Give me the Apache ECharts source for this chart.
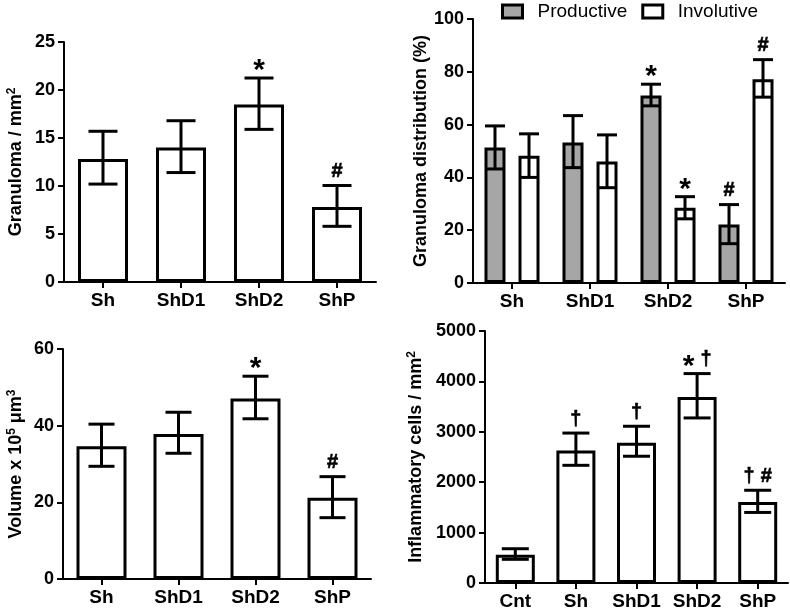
<!DOCTYPE html>
<html>
<head>
<meta charset="utf-8">
<script src="https://cdn.jsdelivr.net/npm/echarts@6/dist/echarts.min.js"></script>
<style>html,body{margin:0;padding:0;background:#fff;}#c{width:790px;height:610px;}</style>
</head>
<body>
<div id="c"></div>
<script>
// ---- data ----
const groups = ['Sh', 'ShD1', 'ShD2', 'ShP'];
const groups4 = ['Cnt', 'Sh', 'ShD1', 'ShD2', 'ShP'];

const granMean = [12.8, 14.0, 18.5, 7.8];
const granHi = [15.7, 16.8, 21.25, 10.05];
const granLo = [10.2, 11.4, 15.9, 5.8];
const granAnn = ['', '', '*', '#'];

const prodMean = [51.3, 53.2, 71.0, 22.2];
const prodHi = [59.5, 63.4, 75.3, 29.7];
const prodLo = [43.2, 43.7, 67.1, 14.9];
const prodAnn = ['', '', '*', '#'];
const invMean = [48.2, 46.0, 28.5, 77.2];
const invHi = [56.5, 56.1, 32.7, 84.6];
const invLo = [40.0, 36.1, 24.3, 70.4];
const invAnn = ['', '', '*', '#'];

const volMean = [34.6, 37.8, 47.1, 21.2];
const volHi = [40.4, 43.5, 52.9, 26.7];
const volLo = [29.4, 32.8, 41.8, 16.0];
const volAnn = ['', '', '*', '#'];

const inflMean = [560, 2630, 2785, 3690, 1605];
const inflHi = [680, 2975, 3110, 4155, 1840];
const inflLo = [470, 2335, 2515, 3275, 1400];
const inflAnn = ['', '†', '†', '* †', '† #'];

// ---- style ----
const FF = 'Liberation Sans, Arial, sans-serif';
const axisLine = { show: true, lineStyle: { color: '#000', width: 2 } };
const axisTick = { show: true, length: 6, lineStyle: { color: '#000', width: 2 } };
const supRich = {
  sup: { fontSize: 12, fontWeight: 'bold', fontFamily: FF, color: '#000', verticalAlign: 'top', padding: [0, 0, 8, 0] }
};

function xAxis(gi, cats) {
  return {
    type: 'category', gridIndex: gi, data: cats,
    axisLine: axisLine,
    axisTick: Object.assign({ alignWithLabel: true }, axisTick),
    axisLabel: { interval: 0, color: '#000', fontSize: 19, fontWeight: 'bold', fontFamily: FF, margin: 9 },
    splitLine: { show: false }
  };
}
function yAxis(gi, max, interval, name, gap) {
  return {
    type: 'value', gridIndex: gi, min: 0, max: max, interval: interval,
    name: name, nameLocation: 'middle', nameGap: gap, nameRotate: 90,
    nameTextStyle: { color: '#000', fontSize: 18, fontWeight: 'bold', fontFamily: FF, rich: supRich },
    axisLine: axisLine, axisTick: axisTick,
    axisLabel: { color: '#000', fontSize: 18, fontWeight: 'bold', fontFamily: FF, margin: 9, formatter: v => String(v) },
    splitLine: { show: false }
  };
}

const mctx = document.createElement('canvas').getContext('2d');
function tokSize(t) { return t === '*' ? 30 : 20; }
function tokW(t) { mctx.font = 'bold ' + tokSize(t) + 'px ' + FF; return mctx.measureText(t).width; }

function errSeries(gi, lo, hi, ann, off, cap) {
  return {
    type: 'custom', xAxisIndex: gi, yAxisIndex: gi, z: 10,
    encode: { x: 0, y: [1, 2] },
    data: lo.map((v, i) => [i, lo[i], hi[i]]),
    renderItem: function (params, api) {
      const i = api.value(0);
      const pLo = api.coord([i, api.value(1)]);
      const pHi = api.coord([i, api.value(2)]);
      const x = pLo[0] + off, hw = cap / 2;
      const st = { stroke: '#000', lineWidth: 3 };
      const ch = [
        { type: 'line', shape: { x1: x, y1: pLo[1], x2: x, y2: pHi[1] }, style: st },
        { type: 'line', shape: { x1: x - hw, y1: pHi[1], x2: x + hw, y2: pHi[1] }, style: st },
        { type: 'line', shape: { x1: x - hw, y1: pLo[1], x2: x + hw, y2: pLo[1] }, style: st }
      ];
      const a = ann[params.dataIndex];
      if (a) {
        const toks = a.split(' ');
        const gap = 6;
        const ws = toks.map(tokW);
        const total = ws.reduce((s, w) => s + w, 0) + gap * (toks.length - 1);
        let cx = x - total / 2;
        toks.forEach((t, k) => {
          const isStar = t === '*';
          ch.push({
            type: 'text', x: cx + ws[k] / 2, y: isStar ? pHi[1] - 7 : pHi[1] - 4,
            style: {
              text: t, fontSize: tokSize(t), fontWeight: 700, fontFamily: FF,
              fill: '#000', stroke: '#000', lineWidth: isStar ? 0 : 0.6, align: 'center',
              verticalAlign: isStar ? 'middle' : 'bottom'
            }
          });
          cx += ws[k] + gap;
        });
      }
      return { type: 'group', children: ch };
    }
  };
}

const whiteBar = { color: '#fff', borderColor: '#000', borderWidth: 3 };
const greyBar = { color: '#a6a6a6', borderColor: '#000', borderWidth: 3 };

const option = {
  animation: false,
  backgroundColor: '#fff',
  textStyle: { fontFamily: FF },
  legend: {
    data: ['Productive', 'Involutive'], icon: 'rect',
    left: 501, top: 2, padding: 0, itemWidth: 20, itemHeight: 13, itemGap: 14,
    itemStyle: { borderColor: '#000', borderWidth: 3 },
    textStyle: { color: '#000', fontSize: 19, fontFamily: FF, padding: [0, 0, 0, 10] }
  },
  grid: [
    { left: 64, top: 42, width: 312, height: 240, containLabel: false, outerBoundsMode: 'none' },
    { left: 473, top: 19, width: 312, height: 264, containLabel: false, outerBoundsMode: 'none' },
    { left: 63, top: 349, width: 308, height: 230, containLabel: false, outerBoundsMode: 'none' },
    { left: 485, top: 331, width: 303, height: 252, containLabel: false, outerBoundsMode: 'none' }
  ],
  xAxis: [xAxis(0, groups), xAxis(1, groups), xAxis(2, groups), xAxis(3, groups4)],
  yAxis: [
    yAxis(0, 25, 5, 'Granuloma / mm{sup|2}', 38),
    yAxis(1, 100, 20, 'Granuloma distribution (%)', 43),
    yAxis(2, 60, 20, 'Volume x 10{sup|5} μm{sup|3}', 37),
    yAxis(3, 5000, 1000, 'Inflammatory cells / mm{sup|2}', 59)
  ],
  series: [
    { type: 'bar', xAxisIndex: 0, yAxisIndex: 0, data: granMean, barWidth: 50, itemStyle: whiteBar },
    errSeries(0, granLo, granHi, granAnn, 0, 29),
    { name: 'Productive', type: 'bar', xAxisIndex: 1, yAxisIndex: 1, data: prodMean, barWidth: 21, barGap: '62%', itemStyle: greyBar },
    { name: 'Involutive', type: 'bar', xAxisIndex: 1, yAxisIndex: 1, data: invMean, barWidth: 21, barGap: '62%', itemStyle: whiteBar },
    errSeries(1, prodLo, prodHi, prodAnn, -17, 20),
    errSeries(1, invLo, invHi, invAnn, 17, 20),
    { type: 'bar', xAxisIndex: 2, yAxisIndex: 2, data: volMean, barWidth: 50, itemStyle: whiteBar },
    errSeries(2, volLo, volHi, volAnn, 0, 26),
    { type: 'bar', xAxisIndex: 3, yAxisIndex: 3, data: inflMean, barWidth: 39, itemStyle: whiteBar },
    errSeries(3, inflLo, inflHi, inflAnn, 0, 27)
  ]
};
const chart = echarts.init(document.getElementById('c'), null, { renderer: 'canvas' });
chart.setOption(option);
</script>
</body>
</html>
